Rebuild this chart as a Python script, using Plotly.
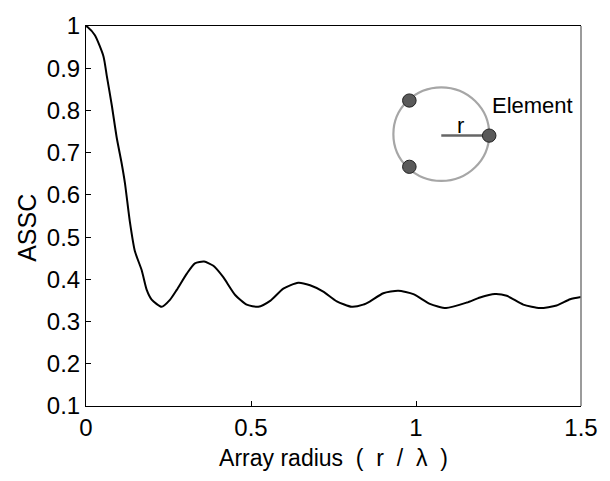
import plotly.graph_objects as go

# Data
radius = [0.0, 0.004, 0.027, 0.053, 0.063, 0.078, 0.093, 0.108, 0.118, 0.133, 0.148,
          0.169, 0.184, 0.199, 0.229, 0.255, 0.275, 0.305, 0.330, 0.358, 0.386,
          0.416, 0.452, 0.487, 0.522, 0.558, 0.598, 0.643, 0.679, 0.719, 0.760,
          0.805, 0.840, 0.861, 0.901, 0.946, 0.992, 1.042, 1.091, 1.154, 1.194,
          1.239, 1.275, 1.325, 1.376, 1.426, 1.467, 1.5]
assc = [1.0, 0.998, 0.978, 0.928, 0.882, 0.813, 0.736, 0.675, 0.628, 0.536, 0.467,
        0.421, 0.375, 0.352, 0.335, 0.352, 0.375, 0.413, 0.438, 0.442, 0.432,
        0.405, 0.363, 0.340, 0.335, 0.349, 0.378, 0.392, 0.386, 0.371, 0.348,
        0.335, 0.340, 0.348, 0.367, 0.373, 0.365, 0.342, 0.332, 0.345, 0.357,
        0.365, 0.361, 0.340, 0.332, 0.338, 0.353, 0.358]
x_ticks = [0, 0.5, 1, 1.5]
x_tick_labels = ["0", "0.5", "1", "1.5"]
y_ticks = [0.1, 0.2, 0.3, 0.4, 0.5, 0.6, 0.7, 0.8, 0.9, 1.0]
y_tick_labels = ["0.1", "0.2", "0.3", "0.4", "0.5", "0.6", "0.7", "0.8", "0.9", "1"]

W, H = 610, 481
L, R, T, B = 86, 28, 16, 75
PW, PH = W - L - R, H - T - B


def px(xp):
    return (xp - L) / PW


def py(yp):
    return (H - B - yp) / PH


FONT = "Liberation Sans, Arial, Helvetica, sans-serif"
NB = "\u00a0\u00a0"

fig = go.Figure()
fig.add_trace(go.Scatter(x=radius, y=assc, mode="lines",
                         line=dict(color="black", width=2, shape="spline", smoothing=0.6),
                         showlegend=False, hoverinfo="skip"))

shapes = []
# right frame line (grey in the reference)
shapes.append(dict(type="line", xref="paper", yref="paper", x0=1, x1=1, y0=0, y1=1,
                   line=dict(color="#7a7a7a", width=1.5)))
# inset: array circle
cx, cy, rr = 442, 127, 48
shapes.append(dict(type="circle", xref="paper", yref="paper",
                   x0=px(cx - rr), x1=px(cx + rr), y0=py(cy + rr), y1=py(cy - rr),
                   line=dict(color="#a6a6a6", width=2.2)))
# radius line
shapes.append(dict(type="line", xref="paper", yref="paper",
                   x0=px(cx), x1=px(490), y0=py(128.5), y1=py(128.5),
                   line=dict(color="#666666", width=2.5)))
# elements
for ex, ey in [(410, 92.5), (410, 160.5), (490, 128.5)]:
    er = 6.8
    shapes.append(dict(type="circle", xref="paper", yref="paper",
                       x0=px(ex - er), x1=px(ex + er), y0=py(ey + er), y1=py(ey - er),
                       fillcolor="#5a5a5a", line=dict(color="#222222", width=1)))

annotations = [
    dict(x=px(461), y=py(118), xref="paper", yref="paper", text="r", showarrow=False,
         font=dict(family=FONT, size=22, color="black"), xanchor="center", yanchor="middle"),
    dict(x=px(491), y=py(98), xref="paper", yref="paper", text="Element", showarrow=False,
         font=dict(family=FONT, size=22, color="black"), xanchor="left", yanchor="middle"),
    dict(x=px(27), y=py(223), xref="paper", yref="paper", text="ASSC", showarrow=False,
         textangle=-90, font=dict(family=FONT, size=25, color="black"),
         xanchor="center", yanchor="middle"),
]

fig.update_layout(
    width=W, height=H,
    margin=dict(l=L, r=R, t=T, b=B, pad=0),
    paper_bgcolor="white", plot_bgcolor="white",
    font=dict(family=FONT, size=24, color="black"),
    shapes=shapes, annotations=annotations,
    xaxis=dict(range=[0, 1.5], tickvals=x_ticks, ticktext=x_tick_labels,
               ticks="inside", ticklen=5, tickcolor="black", tickwidth=1,
               showline=True, linecolor="black", linewidth=1, mirror=True,
               showgrid=False, zeroline=False,
               title=dict(text="Array radius" + NB + "(" + NB + "r" + NB + "/" + NB + "λ" + NB + ")",
                          font=dict(size=23), standoff=10),
               tickfont=dict(size=24)),
    yaxis=dict(range=[0.1, 1.0], tickvals=y_ticks, ticktext=y_tick_labels,
               ticks="inside", ticklen=5, tickcolor="black", tickwidth=1,
               showline=True, linecolor="black", linewidth=1, mirror=False,
               showgrid=False, zeroline=False,
               tickfont=dict(size=24)),
)

fig.write_html("out.html", config=dict(displayModeBar=False),
               post_script="document.body.style.margin='0';document.body.style.overflow='hidden';")
